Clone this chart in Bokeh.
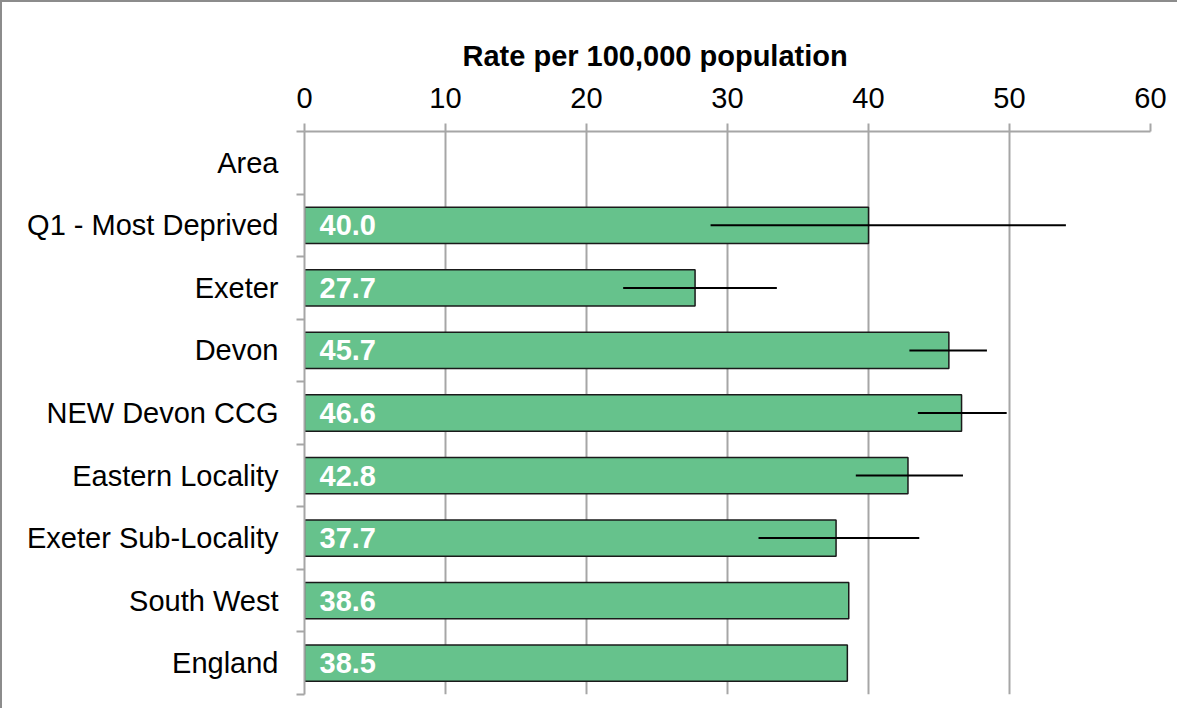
from bokeh.plotting import figure
from bokeh.models import ColumnDataSource, Range1d, FixedTicker
from bokeh.core.properties import value
from bokeh.embed import file_html
from bokeh.resources import INLINE

# ---- data ----
categories = ["Area", "Q1 - Most Deprived", "Exeter", "Devon", "NEW Devon CCG",
              "Eastern Locality", "Exeter Sub-Locality", "South West", "England"]
bar_categories = categories[1:]
rates = [40.0, 27.7, 45.7, 46.6, 42.8, 37.7, 38.6, 38.5]
ci_lower = [28.8, 22.6, 42.9, 43.5, 39.1, 32.2, None, None]
ci_upper = [54.0, 33.5, 48.4, 49.8, 46.7, 43.6, None, None]
x_ticks = [0, 10, 20, 30, 40, 50, 60]
x_title = "Rate per 100,000 population"

FONT = "Liberation Sans"
GRID = "#a6a6a6"

centers = [categories.index(c) + 0.5 for c in bar_categories]
bars = ColumnDataSource(dict(y=centers, rate=rates,
                             label=[f"{r:.1f}" for r in rates]))
err_idx = [i for i, lo in enumerate(ci_lower) if lo is not None]
errs = ColumnDataSource(dict(y=[centers[i] for i in err_idx],
                             lo=[ci_lower[i] for i in err_idx],
                             hi=[ci_upper[i] for i in err_idx]))

p = figure(width=1177, height=708, output_backend="svg", toolbar_location=None,
           x_range=Range1d(0, 60), y_range=Range1d(len(categories), 0),
           x_axis_location="above", y_axis_location="left",
           title=x_title, title_location="above",
           min_border_left=302, min_border_right=29, min_border_top=129,
           min_border_bottom=16)
p.outline_line_color = None
p.background_fill_color = "white"
p.border_fill_color = "white"
p.styles = {"border-top": "2px solid #8c8c8c", "border-left": "2px solid #8c8c8c"}

p.title.align = "left"
p.title.offset = 158
p.title.text_font = FONT
p.title.text_font_style = "bold"
p.title.text_font_size = "29px"
p.title.text_color = "black"
p.title.standoff = 26

# x axis (top)
xa = p.xaxis[0]
xa.ticker = FixedTicker(ticks=x_ticks)
xa.major_label_text_font = FONT
xa.major_label_text_font_size = "29px"
xa.major_label_text_color = "black"
xa.major_label_standoff = 16
xa.axis_line_color = GRID
xa.axis_line_width = 2
xa.major_tick_line_color = GRID
xa.major_tick_line_width = 2
xa.major_tick_out = 8
xa.major_tick_in = 0
xa.minor_tick_line_color = None

# y axis (left): labels at centers, ticks at boundaries
ya = p.yaxis[0]
ya.ticker = FixedTicker(ticks=[i + 0.5 for i in range(len(categories))],
                        minor_ticks=list(range(len(categories) + 1)))
ya.major_label_overrides = {i + 0.5: c for i, c in enumerate(categories)}
ya.major_label_text_font = FONT
ya.major_label_text_font_size = "29px"
ya.major_label_text_color = "black"
ya.major_label_standoff = 18
ya.major_tick_line_color = None
ya.minor_tick_line_color = GRID
ya.minor_tick_line_width = 2
ya.minor_tick_out = 8
ya.minor_tick_in = 0
ya.axis_line_color = GRID
ya.axis_line_width = 2

p.xgrid.ticker = FixedTicker(ticks=x_ticks)
p.xgrid.grid_line_color = GRID
p.xgrid.grid_line_width = 2
p.ygrid.grid_line_color = None

p.hbar(y="y", right="rate", left=0, height=0.58, source=bars,
       fill_color="#66c28c", line_color="#1a1a1a", line_width=1.5)
p.segment(x0="lo", x1="hi", y0="y", y1="y", source=errs,
          line_color="black", line_width=2)
p.text(x=0, y="y", text="label", source=bars, x_offset=15,
       text_baseline="middle", text_align="left", text_color="white",
       text_font=value(FONT), text_font_style="bold", text_font_size="29px")

open("out.html", "w").write(file_html(p, INLINE))
